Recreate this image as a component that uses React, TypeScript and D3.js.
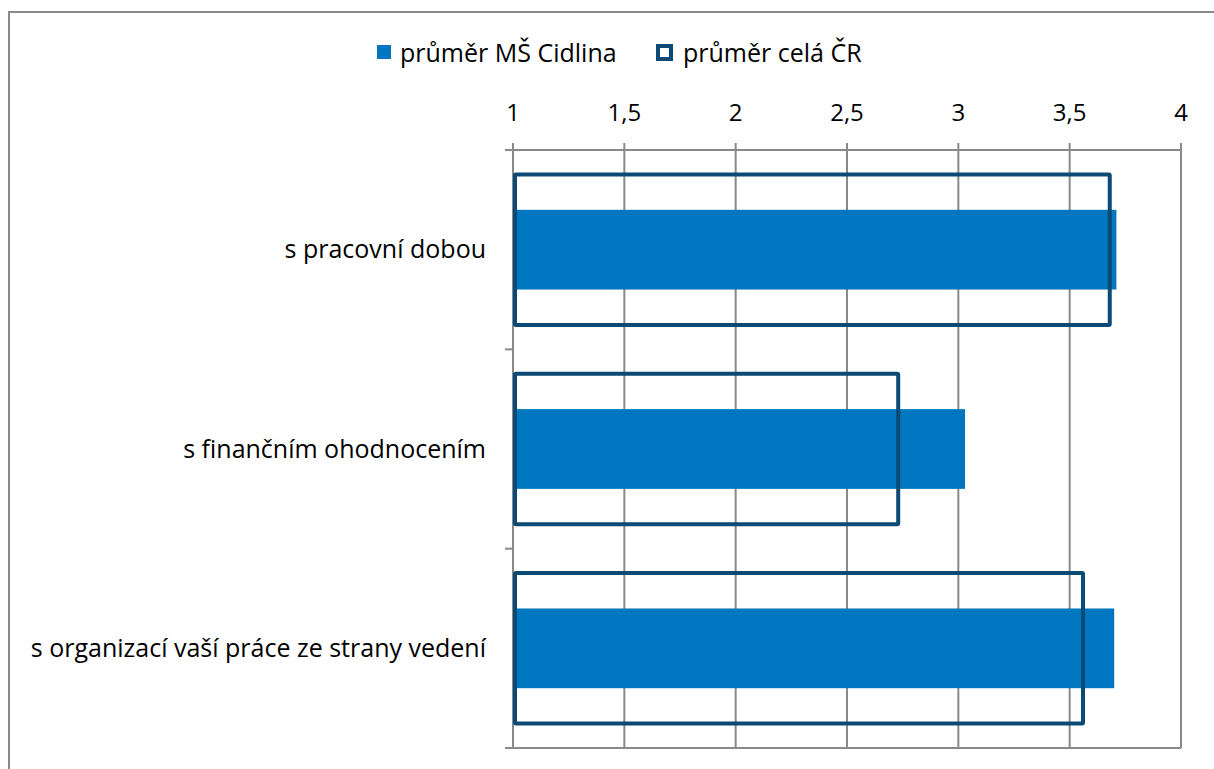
import React, { useEffect, useRef } from "react";
import * as d3 from "d3";

const categories = [
  "s pracovní dobou",
  "s finančním ohodnocením",
  "s organizací vaší práce ze strany vedení",
];
const cidlina = [3.71, 3.03, 3.7];
const celaCR = [3.68, 2.73, 3.56];
const xTicks = [1, 1.5, 2, 2.5, 3, 3.5, 4];
const seriesNames = ["průměr MŠ Cidlina", "průměr celá ČR"];

const FILL = "#0077c0";
const OUTLINE = "#0b4a74";
const GRID = "#898989";
const FONT = "'Open Sans', 'Noto Sans', sans-serif";

const App = () => {
  const chartRef = useRef<SVGSVGElement>(null);

  useEffect(() => {
    drawChart();
  }, []);

  const drawChart = () => {
    const svg = d3.select(chartRef.current);
    svg.selectAll("*").remove();

    const plot = { left: 513, right: 1181, top: 150, bottom: 748 };

    // outer chart frame
    svg
      .append("rect")
      .attr("x", 9)
      .attr("y", 12)
      .attr("width", 1220)
      .attr("height", 780)
      .attr("fill", "white")
      .attr("stroke", GRID)
      .attr("stroke-width", 2);

    const x = d3.scaleLinear().domain([1, 4]).range([plot.left, plot.right]);
    const y = d3
      .scaleBand()
      .domain(categories)
      .range([plot.top, plot.bottom]);

    const g = svg.append("g");

    // vertical gridlines
    g.selectAll(".grid")
      .data(xTicks)
      .enter()
      .append("line")
      .attr("x1", (d) => x(d))
      .attr("x2", (d) => x(d))
      .attr("y1", plot.top - 7)
      .attr("y2", plot.bottom)
      .attr("stroke", GRID)
      .attr("stroke-width", 2);

    // top + bottom axis lines
    g.selectAll(".hline")
      .data([plot.top, plot.bottom])
      .enter()
      .append("line")
      .attr("x1", plot.left - 8)
      .attr("x2", plot.right)
      .attr("y1", (d) => d)
      .attr("y2", (d) => d)
      .attr("stroke", GRID)
      .attr("stroke-width", 2);

    // left axis category ticks
    const bounds = [plot.top, ...categories.map((c) => y(c)! + y.bandwidth())];
    g.selectAll(".ytick")
      .data(bounds)
      .enter()
      .append("line")
      .attr("x1", plot.left - 8)
      .attr("x2", plot.left)
      .attr("y1", (d) => d)
      .attr("y2", (d) => d)
      .attr("stroke", GRID)
      .attr("stroke-width", 2);

    // tick labels
    g.selectAll(".xlabel")
      .data(xTicks)
      .enter()
      .append("text")
      .attr("x", (d) => x(d))
      .attr("y", 121)
      .attr("text-anchor", "middle")
      .style("font-family", FONT)
      .style("font-size", "24px")
      .style("fill", "#000")
      .text((d) => String(d).replace(".", ","));

    g.selectAll(".ylabel")
      .data(categories)
      .enter()
      .append("text")
      .attr("x", 486)
      .attr("y", (d) => y(d)! + y.bandwidth() / 2)
      .attr("dy", "0.35em")
      .attr("text-anchor", "end")
      .style("font-family", FONT)
      .style("font-size", "25px")
      .style("fill", "#000")
      .text((d) => d);

    const fillH = y.bandwidth() * 0.4;
    const outH = y.bandwidth() * 0.755;

    // filled bars (MŠ Cidlina)
    g.selectAll(".bar")
      .data(categories)
      .enter()
      .append("rect")
      .attr("x", x(1) + 2)
      .attr("y", (d) => y(d)! + (y.bandwidth() - fillH) / 2)
      .attr("width", (d, i) => x(cidlina[i]) - x(1) - 2)
      .attr("height", fillH)
      .attr("fill", FILL);

    // outline bars (celá ČR)
    g.selectAll(".obar")
      .data(categories)
      .enter()
      .append("rect")
      .attr("x", x(1) + 2)
      .attr("y", (d) => y(d)! + (y.bandwidth() - outH) / 2)
      .attr("width", (d, i) => x(celaCR[i]) - x(1) - 2)
      .attr("height", outH)
      .attr("fill", "none")
      .attr("stroke", OUTLINE)
      .attr("stroke-width", 4)
      .attr("rx", 1);

    // legend
    const legend = svg.append("g");
    legend
      .append("rect")
      .attr("x", 377)
      .attr("y", 45)
      .attr("width", 14)
      .attr("height", 14)
      .attr("fill", FILL);
    legend
      .append("text")
      .attr("x", 400)
      .attr("y", 62)
      .style("font-family", FONT)
      .style("font-size", "25px")
      .text(seriesNames[0]);
    legend
      .append("rect")
      .attr("x", 658)
      .attr("y", 46)
      .attr("width", 13)
      .attr("height", 13)
      .attr("fill", "white")
      .attr("stroke", OUTLINE)
      .attr("stroke-width", 4);
    legend
      .append("text")
      .attr("x", 683)
      .attr("y", 62)
      .style("font-family", FONT)
      .style("font-size", "25px")
      .text(seriesNames[1]);
  };

  return (
    <svg
      ref={chartRef}
      width={1214}
      height={769}
      style={{ position: "absolute", top: 0, left: 0 }}
    ></svg>
  );
};

export default App;
